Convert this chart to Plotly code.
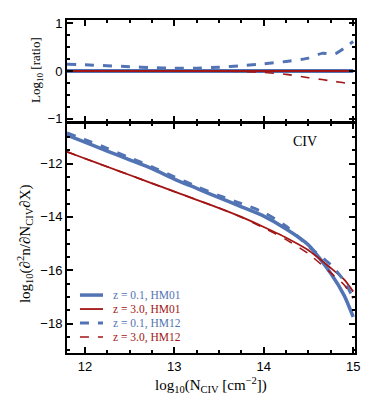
import plotly.graph_objects as go

# log10 column density grid
n_civ = [11.8, 12.0, 12.25, 12.5, 12.75, 13.0, 13.25, 13.5, 13.75, 14.0, 14.25, 14.5, 14.75, 14.9, 15.0]

# bottom panel: log10 of the distribution
z01_hm01 = [-10.93, -11.20, -11.53, -11.86, -12.19, -12.58, -12.93, -13.28, -13.62, -13.97, -14.45, -15.05, -16.12, -16.95, -17.75]
z30_hm01 = [-11.56, -11.81, -12.12, -12.43, -12.74, -13.05, -13.36, -13.67, -14.00, -14.38, -14.78, -15.25, -15.92, -16.35, -16.80]
z01_hm12 = [-10.85, -11.10, -11.43, -11.78, -12.12, -12.50, -12.86, -13.20, -13.50, -13.83, -14.35, -15.10, -15.80, -16.40, -17.05]
z30_hm12 = [-11.56, -11.81, -12.12, -12.43, -12.74, -13.05, -13.36, -13.67, -14.01, -14.41, -14.85, -15.38, -16.10, -16.55, -17.05]

# top panel: log10 ratio to HM01
ratio_x = [11.8, 12.0, 12.25, 12.5, 12.75, 13.0, 13.25, 13.5, 13.75, 14.0, 14.25, 14.5, 14.65, 14.8, 14.9, 15.0]
ratio_z01 = [0.14, 0.13, 0.11, 0.09, 0.07, 0.06, 0.06, 0.08, 0.11, 0.15, 0.20, 0.27, 0.37, 0.36, 0.48, 0.62]
ratio_z30 = [0.0, 0.0, 0.0, 0.0, 0.0, 0.0, 0.0, 0.0, -0.01, -0.03, -0.07, -0.14, -0.18, -0.22, -0.25, -0.27]
ratio_ref = [0.0] * len(ratio_x)

labels = ['z = 0.1, HM01', 'z = 3.0, HM01', 'z = 0.1, HM12', 'z = 3.0, HM12']

BLUE = '#5274b4'
RED = '#a31515'
SERIF = 'Liberation Serif'
SANS = 'Liberation Sans'

fig = go.Figure()

# ratio panel
fig.add_trace(go.Scatter(x=ratio_x, y=ratio_ref, mode='lines', line=dict(color=BLUE, width=4),
                         xaxis='x2', yaxis='y2', showlegend=False))
fig.add_trace(go.Scatter(x=ratio_x, y=ratio_ref, mode='lines', line=dict(color=RED, width=2),
                         xaxis='x2', yaxis='y2', showlegend=False))
fig.add_trace(go.Scatter(x=ratio_x, y=ratio_z01, mode='lines',
                         line=dict(color=BLUE, width=3, dash='dash', shape='spline', smoothing=0.5),
                         xaxis='x2', yaxis='y2', showlegend=False))
fig.add_trace(go.Scatter(x=ratio_x, y=ratio_z30, mode='lines',
                         line=dict(color=RED, width=1.6, dash='dash', shape='spline', smoothing=0.5),
                         xaxis='x2', yaxis='y2', showlegend=False))

# main panel
styles = [(BLUE, 3.5, 'solid'), (RED, 1.8, 'solid'), (BLUE, 3.0, 'dash'), (RED, 1.6, 'dash')]
annotations = []
shapes = []
for i, (ys, (col, w, dash), name) in enumerate(zip([z01_hm01, z30_hm01, z01_hm12, z30_hm12], styles, labels)):
    fig.add_trace(go.Scatter(
        x=n_civ, y=ys, mode='lines', line=dict(color=col, width=w, dash=dash, shape='spline', smoothing=0.6),
        name=name, showlegend=False))
    # hand-made compact legend (plotly's legend rows are too tall)
    ly = 0.174 - i * 0.042
    shapes.append(dict(type='line', xref='paper', yref='paper', x0=0.045, x1=0.125, y0=ly, y1=ly,
                       line=dict(color=col, width=w, dash=dash)))
    annotations.append(dict(text=name, x=0.152, y=ly, xref='paper', yref='paper', xanchor='left',
                            yanchor='middle', showarrow=False,
                            font=dict(family=SERIF, size=11.5, color=col)))

axis_common = dict(showline=True, linecolor='black', linewidth=2, mirror='allticks',
                   ticks='inside', ticklen=6, tickwidth=1.5, tickcolor='black',
                   showgrid=False, zeroline=False,
                   tickfont=dict(family=SANS, size=13, color='black'))

annotations += [
    dict(text='CIV', x=0.875, y=0.634, xref='paper', yref='paper', showarrow=False,
         font=dict(family=SERIF, size=14, color='black')),
    dict(text='log<sub>10</sub>(N<sub>CIV</sub> [cm<sup>−2</sup>])', x=0.5, y=-0.095,
         xref='paper', yref='paper', showarrow=False, xanchor='center', yanchor='middle',
         font=dict(family=SERIF, size=15, color='black')),
    dict(text='log<sub>10</sub>(∂<sup>2</sup>n/∂N<sub>CIV</sub>∂X)', x=-0.146, y=0.33,
         xref='paper', yref='paper', showarrow=False, textangle=-90, xanchor='center', yanchor='middle',
         font=dict(family=SERIF, size=15, color='black')),
    dict(text='Log<sub>10</sub> [ratio]', x=-0.104, y=0.85,
         xref='paper', yref='paper', showarrow=False, textangle=-90, xanchor='center', yanchor='middle',
         font=dict(family=SERIF, size=13, color='black')),
]

# page body adds 8px margin, so the figure is shrunk by that amount
fig.update_layout(
    width=366, height=403,
    margin=dict(l=59, r=19, t=12, b=58, autoexpand=False),
    paper_bgcolor='white', plot_bgcolor='white',
    showlegend=False,
    xaxis=dict(domain=[0, 1], range=[11.8, 15.02], tickvals=[12, 13, 14, 15], anchor='y',
               minor=dict(dtick=0.25, tick0=12, ticks='inside', ticklen=3, tickcolor='black'),
               **axis_common),
    yaxis=dict(domain=[0, 0.6907], range=[-19.1, -10.48], tickvals=[-12, -14, -16, -18], anchor='x',
               minor=dict(dtick=0.5, tick0=-12, ticks='inside', ticklen=3, tickcolor='black'),
               **axis_common),
    xaxis2=dict(domain=[0, 1], range=[11.8, 15.02], tickvals=[12, 13, 14, 15], anchor='y2',
                showticklabels=False,
                minor=dict(dtick=0.25, tick0=12, ticks='inside', ticklen=3, tickcolor='black'),
                **axis_common),
    yaxis2=dict(domain=[0.6937, 1], range=[-1.07, 1.07], tickvals=[-1, 0, 1], anchor='x2',
                minor=dict(dtick=0.25, tick0=0, ticks='inside', ticklen=3, tickcolor='black'),
                **axis_common),
    annotations=annotations,
    shapes=shapes,
)

fig.write_html("out.html")
